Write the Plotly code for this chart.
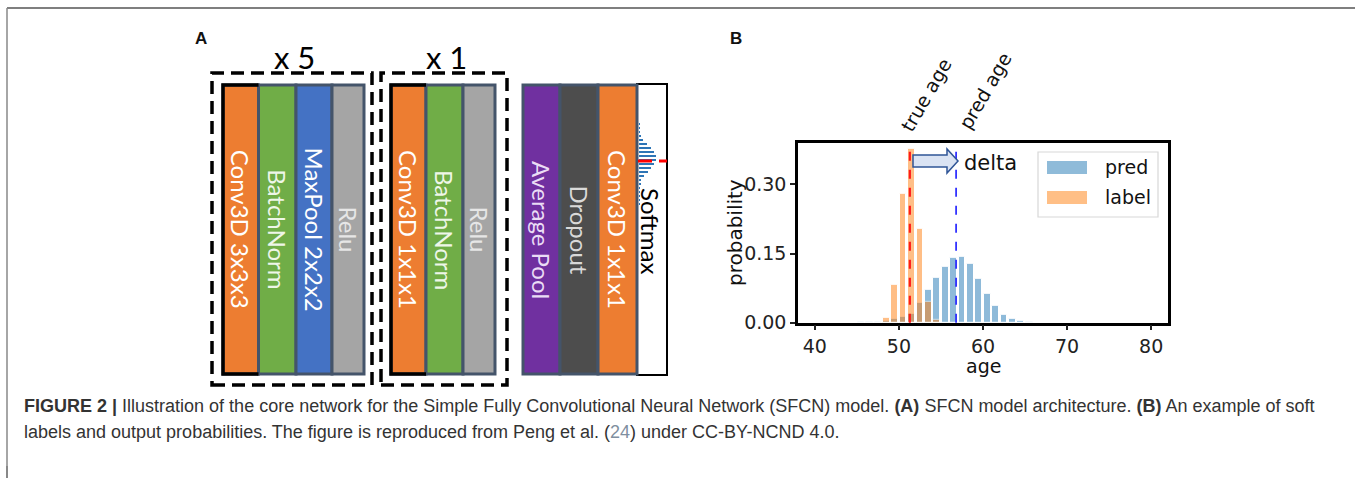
import plotly.graph_objects as go

W, H = 1355, 467

# ---------------- data (panel B) ----------------
pred_ages = [45.5, 46.5, 47.5, 48.5, 49.5, 50.5, 51.5, 52.5, 53.5, 54.5, 55.5,
             56.5, 57.5, 58.5, 59.5, 60.5, 61.5, 62.5, 63.5, 64.5, 65.5]
pred_prob = [0.003, 0.003, 0.003, 0.005, 0.008, 0.013, 0.020, 0.043, 0.071, 0.097, 0.121,
             0.140, 0.143, 0.127, 0.095, 0.062, 0.036, 0.018, 0.008, 0.004, 0.003]
label_ages = [48.5, 49.5, 50.5, 51.5, 52.5, 53.5, 54.5]
label_prob = [0.010, 0.083, 0.279, 0.376, 0.204, 0.045, 0.006]
true_age = 51.3
pred_age = 56.8
x_ticks = [40, 50, 60, 70, 80]
y_ticks = [0.0, 0.15, 0.30]
y_ticktext = ["0.00", "0.15", "0.30"]

# ---------------- data (panel A) ----------------
group1_names = ["Conv3D 3x3x3", "BatchNorm", "MaxPool 2x2x2", "Relu"]
group1_colors = ["#ED7D31", "#70AD47", "#4472C4", "#A5A5A5"]
group1_text = ["#ffffff", "#eef6e8", "#ffffff", "#e6e6e6"]
group2_names = ["Conv3D 1x1x1", "BatchNorm", "Relu"]
group2_colors = ["#ED7D31", "#70AD47", "#A5A5A5"]
group2_text = ["#ffffff", "#eef6e8", "#e6e6e6"]
group3_names = ["Average Pool", "Dropout", "Conv3D 1x1x1"]
group3_colors = ["#7030A0", "#4D4D4D", "#ED7D31"]
group3_text = ["#eadcf5", "#d9d9d9", "#ffffff"]
repeat_labels = ["x 5", "x 1"]

caption1 = ("<b>FIGURE 2 |</b> Illustration of the core network for the Simple Fully Convolutional "
            "Neural Network (SFCN) model. <b>(A)</b> SFCN model architecture. <b>(B)</b> An example of soft")
caption2 = ("labels and output probabilities. The figure is reproduced from Peng et al. "
            "(<span style='color:#7f8fa0'>24</span>) under CC-BY-NCND 4.0.")


def px(x):
    return x / W


def py(y):
    return 1 - y / H


fig = go.Figure()
shapes = []
annotations = []

# ---------------- panel B histogram ----------------
fig.add_trace(go.Bar(x=pred_ages, y=pred_prob, width=0.8, marker=dict(color="#1f77b4", line=dict(color="white", width=1)),
                     opacity=0.5, name="pred", showlegend=False, xaxis="x", yaxis="y"))
fig.add_trace(go.Bar(x=label_ages, y=label_prob, width=0.8, marker=dict(color="#ff7f0e", line=dict(color="white", width=1)),
                     opacity=0.5, name="label", showlegend=False, xaxis="x", yaxis="y"))

tick_font = dict(family="DejaVu Sans", size=19, color="#222")
fig.update_layout(
    xaxis=dict(domain=[px(798), px(1168)], range=[38, 82], tickvals=x_ticks, ticks="outside", ticklen=5,
               tickwidth=1.5, tickcolor="#222", showline=True, linewidth=2.5, linecolor="black", mirror=True,
               showgrid=False, zeroline=False, tickfont=tick_font, anchor="y", automargin=False),
    yaxis=dict(domain=[py(322.7), py(142.8)], range=[0, 0.39], tickvals=y_ticks, ticktext=y_ticktext,
               ticks="outside", ticklen=5, tickwidth=1.5, tickcolor="#222", showline=True, linewidth=2.5,
               linecolor="black", mirror=True, showgrid=False, zeroline=False, tickfont=tick_font, anchor="x",
               automargin=False),
)

# vertical lines
shapes.append(dict(type="line", xref="x", yref="y domain", x0=true_age, x1=true_age, y0=0, y1=1,
                   line=dict(color="#ff1a1a", width=2.2, dash="dash")))
shapes.append(dict(type="line", xref="x", yref="y domain", x0=pred_age, x1=pred_age, y0=0, y1=1,
                   line=dict(color="#1a1aff", width=1.6, dash="dash")))

# delta block arrow
ax0, ax1, ax2 = 913, 947, 958
ay_t, ay_b, ah_t, ah_b, ay_m = 155, 167, 149, 173, 161
arrow_path = (f"M {px(ax0)},{py(ay_t)} L {px(ax1)},{py(ay_t)} L {px(ax1)},{py(ah_t)} L {px(ax2)},{py(ay_m)} "
              f"L {px(ax1)},{py(ah_b)} L {px(ax1)},{py(ay_b)} L {px(ax0)},{py(ay_b)} Z")
shapes.append(dict(type="path", xref="paper", yref="paper", path=arrow_path,
                   fillcolor="#dae3f3", line=dict(color="#2f5597", width=1.5)))

# legend (manual, matplotlib style)
shapes.append(dict(type="rect", xref="paper", yref="paper", x0=px(1038), x1=px(1158), y0=py(217), y1=py(152),
                   fillcolor="white", line=dict(color="#d4d4d4", width=1.2), opacity=0.9))
shapes.append(dict(type="rect", xref="paper", yref="paper", x0=px(1047), x1=px(1087), y0=py(174), y1=py(161),
                   fillcolor="#1f77b4", opacity=0.5, line=dict(width=0)))
shapes.append(dict(type="rect", xref="paper", yref="paper", x0=px(1047), x1=px(1087), y0=py(204), y1=py(191),
                   fillcolor="#ff7f0e", opacity=0.5, line=dict(width=0)))
lab_font = dict(family="DejaVu Sans", size=19, color="#111")
annotations.append(dict(text="pred", x=px(1103), y=py(167), xref="paper", yref="paper", xanchor="left",
                        yanchor="middle", showarrow=False, font=lab_font))
annotations.append(dict(text="label", x=px(1103), y=py(197), xref="paper", yref="paper", xanchor="left",
                        yanchor="middle", showarrow=False, font=lab_font))
annotations.append(dict(text="delta", x=px(962), y=py(163), xref="paper", yref="paper", xanchor="left",
                        yanchor="middle", showarrow=False, font=dict(family="DejaVu Sans", size=21, color="#111")))
annotations.append(dict(text="true age", x=px(926), y=py(95), xref="paper", yref="paper", xanchor="center",
                        yanchor="middle", textangle=-60, showarrow=False, font=lab_font))
annotations.append(dict(text="pred age", x=px(985), y=py(91), xref="paper", yref="paper", xanchor="center",
                        yanchor="middle", textangle=-60, showarrow=False, font=lab_font))
annotations.append(dict(text="age", x=px(983), y=py(366), xref="paper", yref="paper", xanchor="center",
                        yanchor="middle", showarrow=False, font=lab_font))
annotations.append(dict(text="probability", x=px(735), y=py(233), xref="paper", yref="paper", xanchor="center",
                        yanchor="middle", textangle=-90, showarrow=False, font=dict(family="DejaVu Sans", size=20, color="#111")))

# ---------------- panel A diagram ----------------
top, bot = 85, 374
slate = "#44546A"
blk_font = "Lato, Open Sans, sans-serif"


def draw_group(x_start, widths, names, colors, tcolors, black_first):
    x = x_start
    for i, (w, n, c, tc) in enumerate(zip(widths, names, colors, tcolors)):
        shapes.append(dict(type="rect", xref="paper", yref="paper", x0=px(x), x1=px(x + w), y0=py(bot), y1=py(top),
                           fillcolor=c, line=dict(color=slate, width=3)))
        annotations.append(dict(text=n, x=px(x + w / 2), y=py((top + bot) / 2), xref="paper", yref="paper",
                                xanchor="center", yanchor="middle", textangle=90, showarrow=False,
                                font=dict(family=blk_font, size=24, color=tc)))
        x += w
    if black_first:
        w0 = widths[0]
        pth = (f"M {px(x_start + w0)},{py(top)} L {px(x_start)},{py(top)} L {px(x_start)},{py(bot)} "
               f"L {px(x_start + w0)},{py(bot)}")
        shapes.append(dict(type="path", xref="paper", yref="paper", path=pth,
                           line=dict(color="black", width=3.5)))
    return x


draw_group(223, [35.5, 37.5, 36, 32], group1_names, group1_colors, group1_text, True)
draw_group(391, [35, 37, 32], group2_names, group2_colors, group2_text, True)
end3 = draw_group(523, [37, 38, 39], group3_names, group3_colors, group3_text, False)

# softmax box (below the mini histogram)
shapes.append(dict(type="rect", xref="paper", yref="paper", x0=px(end3), x1=px(667), y0=py(375), y1=py(84),
                   fillcolor="white", line=dict(color="black", width=2), layer="below"))
annotations.append(dict(text="Softmax", x=px(650), y=py(231), xref="paper", yref="paper", xanchor="center",
                        yanchor="middle", textangle=90, showarrow=False,
                        font=dict(family=blk_font, size=24, color="black")))
# mini softmax histogram
fig.add_trace(go.Bar(x=pred_prob, y=pred_ages, orientation="h", width=0.7, marker=dict(color="#2e75b6", line=dict(width=0)),
                     showlegend=False, xaxis="x3", yaxis="y3", hoverinfo="skip"))
fig.update_layout(
    xaxis3=dict(domain=[px(638.5), px(658)], range=[0, 0.16], visible=False, anchor="y3", automargin=False),
    yaxis3=dict(domain=[py(206), py(122)], range=[45, 66], visible=False, anchor="x3", automargin=False),
)
shapes.append(dict(type="line", xref="paper", yref="paper", x0=px(638), x1=px(652), y0=py(161), y1=py(161),
                   line=dict(color="#ff0000", width=3)))
shapes.append(dict(type="line", xref="paper", yref="paper", x0=px(659), x1=px(667), y0=py(161), y1=py(161),
                   line=dict(color="#ff0000", width=3)))

# dashed repeat boxes
for (x0, x1), lab in zip([(212, 372), (381, 507)], repeat_labels):
    shapes.append(dict(type="rect", xref="paper", yref="paper", x0=px(x0), x1=px(x1), y0=py(385), y1=py(73),
                       line=dict(color="black", width=3.5, dash="13px,7px")))
    annotations.append(dict(text=lab, x=px((x0 + x1) / 2 + 2), y=py(57), xref="paper", yref="paper",
                            xanchor="center", yanchor="middle", showarrow=False,
                            font=dict(family=blk_font, size=31, color="black")))

# panel letters
annotations.append(dict(text="<b>A</b>", x=px(201), y=py(39), xref="paper", yref="paper", xanchor="center",
                        yanchor="middle", showarrow=False, font=dict(family="Liberation Sans", size=17, color="#111")))
annotations.append(dict(text="<b>B</b>", x=px(736), y=py(39), xref="paper", yref="paper", xanchor="center",
                        yanchor="middle", showarrow=False, font=dict(family="Liberation Sans", size=17, color="#111")))

# frame lines (top and left)
shapes.append(dict(type="line", xref="paper", yref="paper", x0=px(7), x1=1, y0=py(8), y1=py(8),
                   line=dict(color="#555", width=1.5)))
shapes.append(dict(type="line", xref="paper", yref="paper", x0=px(7), x1=px(7), y0=py(8), y1=0,
                   line=dict(color="#888", width=1.5)))

# caption
cap_font = dict(family="Liberation Sans", size=18, color="#333")
annotations.append(dict(text=caption1, x=px(22), y=py(406), xref="paper", yref="paper", xanchor="left",
                        yanchor="middle", showarrow=False, font=cap_font))
annotations.append(dict(text=caption2, x=px(22), y=py(432), xref="paper", yref="paper", xanchor="left",
                        yanchor="middle", showarrow=False, font=cap_font))

fig.update_layout(
    width=W, height=H, margin=dict(l=0, r=0, t=0, b=0, autoexpand=False), autosize=False,
    paper_bgcolor="white", plot_bgcolor="rgba(0,0,0,0)", barmode="overlay", bargap=0,
    shapes=shapes, annotations=annotations, showlegend=False,
)

post = ("document.documentElement.style.margin='0';document.documentElement.style.padding='0';"
        "document.body.style.margin='0';document.body.style.padding='0';"
        "var fl=document.createElement('div');"
        "fl.style.cssText='position:absolute;left:6.25px;top:" + str(H - 1) + "px;width:1.5px;height:"
        + str(478 - H + 1) + "px;background:#888;pointer-events:none;';document.body.appendChild(fl);")
fig.write_html("out.html", post_script=post, config={"displayModeBar": False})
